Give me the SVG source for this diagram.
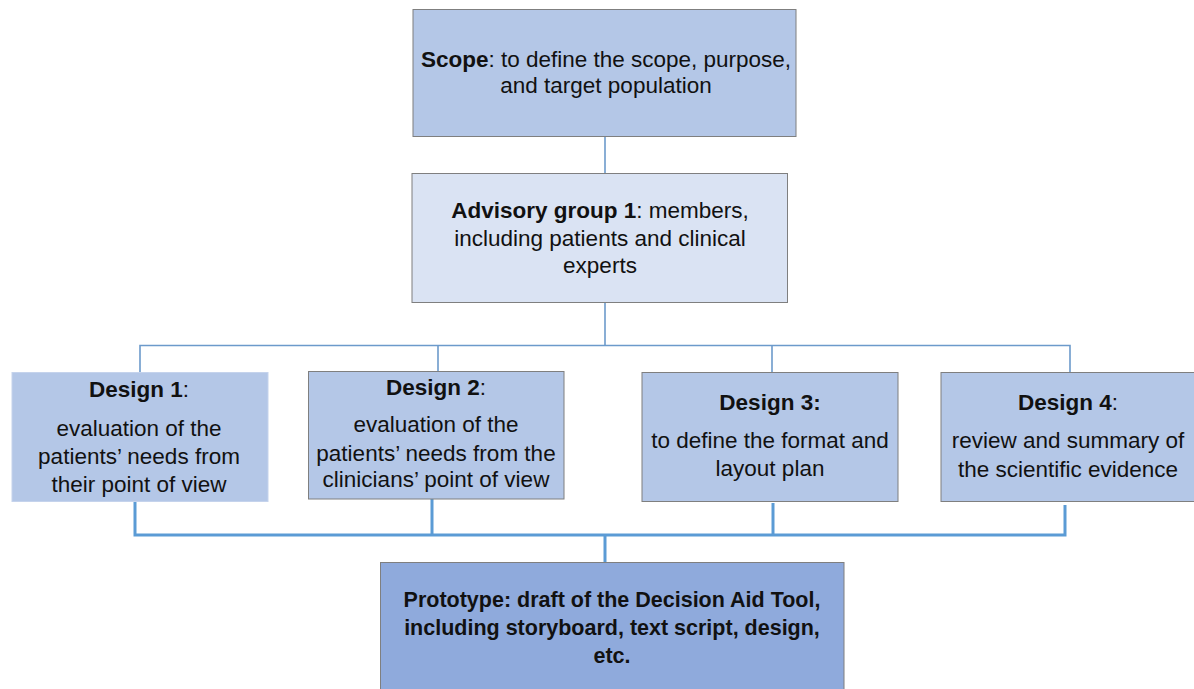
<svg xmlns="http://www.w3.org/2000/svg" width="1194" height="689" viewBox="0 0 1194 689">
<style>
  text { font-family: "Liberation Sans", Arial, sans-serif; font-size: 22.5px; fill: #111; text-anchor: middle; }
  .b { font-weight: bold; }
  .p { font-size: 21.5px; font-weight: bold; }
  .box { stroke: #7f7f7f; stroke-width: 1; }
  .mid { fill: #b4c7e7; }
  .light { fill: #dae3f3; }
  .dark { fill: #8faadc; }
  .thin { stroke: #6c9acb; stroke-width: 1.6; fill: none; }
  .thick { stroke: #5b9bd5; stroke-width: 3; fill: none; }
</style>
<rect width="1194" height="689" fill="#fff"/>
<g id="connectors">
  <line class="thin" x1="605" y1="137" x2="605" y2="173"/>
  <line class="thin" x1="605" y1="303" x2="605" y2="345"/>
  <polyline class="thin" points="140,372 140,345.5 1070,345.5 1070,372"/>
  <line class="thin" x1="438" y1="345" x2="438" y2="371"/>
  <line class="thin" x1="772" y1="345" x2="772" y2="372"/>
  <polyline class="thick" points="135,502 135,535 1065,535 1065,505"/>
  <line class="thick" x1="432" y1="499" x2="432" y2="535"/>
  <line class="thick" x1="773" y1="503" x2="773" y2="535"/>
  <line class="thick" x1="605" y1="535" x2="605" y2="563"/>
</g>
<g id="scope">
  <rect class="box mid" x="413" y="9.5" width="383" height="127"/>
  <text x="606" y="67"><tspan class="b">Scope</tspan>: to define the scope, purpose,</text>
  <text x="606" y="93">and target population</text>
</g>
<g id="advisory">
  <rect class="box light" x="412" y="173.5" width="375.5" height="129"/>
  <text x="600" y="218"><tspan class="b">Advisory group 1</tspan>: members,</text>
  <text x="600" y="246">including patients and clinical</text>
  <text x="600" y="273">experts</text>
</g>
<g id="design1">
  <rect x="12" y="372.5" width="256" height="129" fill="#b4c7e7" stroke="#c5d3ec" stroke-width="1"/>
  <text x="139" y="397"><tspan class="b">Design 1</tspan>:</text>
  <text x="139" y="436">evaluation of the</text>
  <text x="139" y="464">patients’ needs from</text>
  <text x="139" y="491.5">their point of view</text>
</g>
<g id="design2">
  <rect class="box mid" x="308.5" y="371.5" width="255.5" height="127.5"/>
  <text x="436" y="395"><tspan class="b">Design 2</tspan>:</text>
  <text x="436" y="432">evaluation of the</text>
  <text x="436" y="460.5">patients’ needs from the</text>
  <text x="436" y="487">clinicians’ point of view</text>
</g>
<g id="design3">
  <rect class="box mid" x="642" y="372.5" width="256" height="129"/>
  <text class="b" x="770" y="410">Design 3:</text>
  <text x="770" y="448">to define the format and</text>
  <text x="770" y="476">layout plan</text>
</g>
<g id="design4">
  <rect class="box mid" x="941" y="372.5" width="256" height="129"/>
  <text x="1068" y="410"><tspan class="b">Design 4</tspan>:</text>
  <text x="1068" y="448">review and summary of</text>
  <text x="1068" y="476.5">the scientific evidence</text>
</g>
<g id="prototype">
  <rect class="box dark" x="380.5" y="562.5" width="463.5" height="140"/>
  <text class="p" x="612" y="606.5">Prototype: draft of the Decision Aid Tool,</text>
  <text class="p" x="612" y="635">including storyboard, text script, design,</text>
  <text class="p" x="612" y="662.5">etc.</text>
</g>
</svg>
